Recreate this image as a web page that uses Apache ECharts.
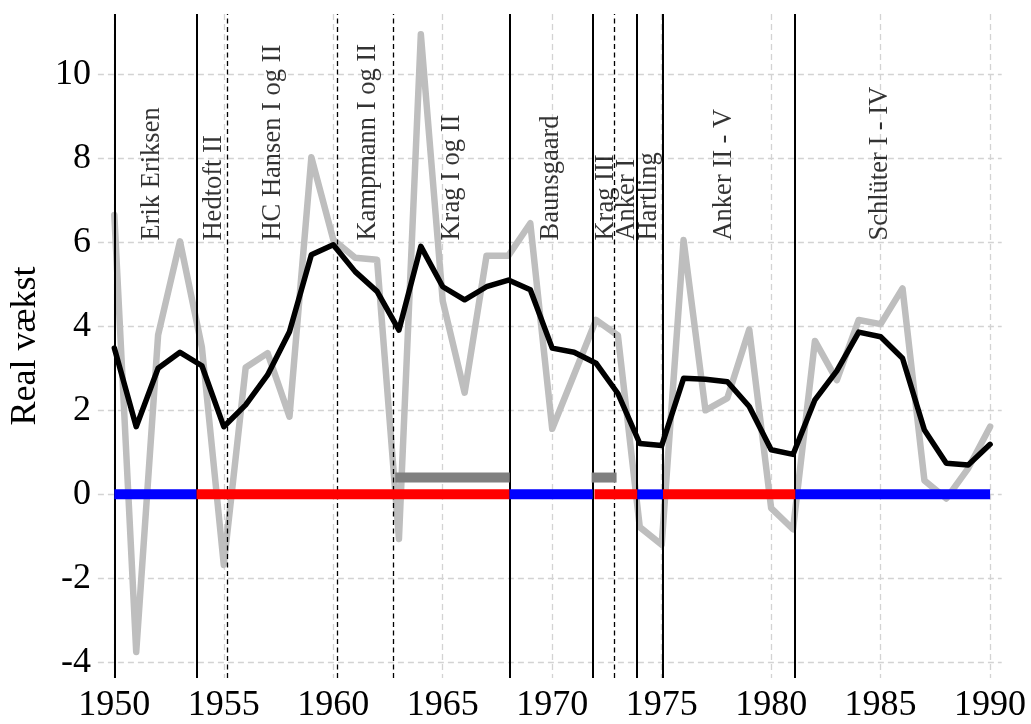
<!DOCTYPE html>
<html><head><meta charset="utf-8">
<script src="https://cdn.jsdelivr.net/npm/echarts@6/dist/echarts.min.js"></script>
<style>html,body{margin:0;padding:0;background:#fff}#c{width:1031px;height:724px}</style>
</head><body><div id="c"></div>
<script>
const years = [1950,1951,1952,1953,1954,1955,1956,1957,1958,1959,1960,1961,1962,1963,1964,1965,1966,1967,1968,1969,1970,1971,1972,1973,1974,1975,1976,1977,1978,1979,1980,1981,1982,1983,1984,1985,1986,1987,1988,1989,1990];
const growth = [6.65,-3.75,3.79,6.02,3.5,-1.68,3.02,3.36,1.85,8.02,6.06,5.63,5.58,-1.06,10.95,4.6,2.42,5.68,5.68,6.45,1.56,2.85,4.15,3.78,-0.78,-1.2,6.05,2.0,2.29,3.92,-0.33,-0.83,3.65,2.72,4.15,4.05,4.9,0.33,-0.1,0.62,1.61];
const smooth = [3.48,1.61,3.0,3.38,3.06,1.61,2.13,2.84,3.87,5.7,5.94,5.3,4.83,3.91,5.9,4.94,4.63,4.94,5.1,4.87,3.48,3.38,3.12,2.4,1.21,1.16,2.76,2.74,2.68,2.09,1.06,0.95,2.25,2.94,3.86,3.75,3.24,1.53,0.74,0.7,1.19];
const xTicks = [1950,1955,1960,1965,1970,1975,1980,1985,1990];
const yTicks = [-4,-2,0,2,4,6,8,10];
const govNames = ['Erik Eriksen','Hedtoft II','HC Hansen I og II','Kampmann I og II','Krag I og II','Baunsgaard','Krag III','Anker I','Hartling','Anker II - V','Schlüter I - IV'];
const govLabelX = [1951.73,1954.55,1957.25,1961.57,1965.44,1969.93,1972.44,1973.42,1974.44,1977.83,1984.97];
const govLabelY = 6.04;
const solidLines = [1950,1953.75,1968.05,1971.83,1973.88,1975.06,1981.1];
const dashedLines = [1955.15,1960.2,1962.74,1972.83];
const blueSegs = [[1950,1953.76],[1968.04,1971.85],[1973.88,1975.06],[1981.1,1990]];
const redSegs = [[1953.76,1968.04],[1971.93,1973.88],[1975.06,1981.1]];
const graySegs = [[1962.83,1968.06],[1971.8,1972.94]];
const grayBarY = 0.4;

const FONT = "'Liberation Serif','Times New Roman',serif";
const chart = echarts.init(document.getElementById('c'), null, {renderer:'canvas'});

function segSeries(segs, y, color, z){
  return segs.map(s => ({
    type:'line', data:[[s[0],y],[s[1],y]], symbol:'none', silent:true, z:z,
    lineStyle:{color:color, width:10, cap:'butt'}, animation:false
  }));
}

const series = [
  {type:'line', data: years.map((y,i)=>[y,growth[i]]), symbol:'none', z:2, animation:false,
   lineStyle:{color:'#BEBEBE', width:6.5, cap:'round', join:'round'}},
  {type:'line', data:[], z:3, animation:false, silent:true,
   markLine:{symbol:'none', silent:true, animation:false, label:{show:false},
     data: solidLines.map(x=>({xAxis:x, lineStyle:{color:'#000', width:2, type:'solid'}}))
       .concat(dashedLines.map(x=>({xAxis:x, lineStyle:{color:'#000', width:1.3, type:[5,3.5]}})))
   }},
  {type:'line', data: years.map((y,i)=>[y,smooth[i]]), symbol:'none', z:4, animation:false,
   lineStyle:{color:'#000', width:5.5, cap:'round', join:'round'}},
  ...segSeries(blueSegs, 0, '#0000FF', 5),
  ...segSeries(redSegs, 0, '#FF0000', 5),
  ...segSeries(graySegs, grayBarY, '#808080', 5),
  {type:'scatter', symbolSize:0, z:6, animation:false, silent:true,
   data: govNames.map((n,i)=>({name:n, value:[govLabelX[i], govLabelY]})),
   label:{show:true, position:'inside', formatter:'{b}', rotate:90, align:'left', verticalAlign:'middle',
     color:'#000', fontFamily:FONT, fontSize:26.5}}
];

chart.setOption({
  animation:false,
  grid:{left:96.5, right:29.3, top:14, bottom:43.3},
  xAxis:{type:'value', min:1949.25, max:1990.53,
    axisLine:{show:false},
    axisTick:{show:false, customValues:xTicks},
    axisLabel:{customValues:xTicks, formatter:v=>String(v), color:'#000', fontFamily:FONT, fontSize:36, margin:10},
    splitLine:{show:true, lineStyle:{color:'#D3D3D3', width:1.3, type:[6,4]}}},
  yAxis:{type:'value', min:-4.37, max:11.43,
    name:'Real vækst', nameLocation:'middle', nameGap:52,
    nameTextStyle:{color:'#000', fontFamily:FONT, fontSize:36},
    axisLine:{show:false},
    axisTick:{show:false, customValues:yTicks},
    axisLabel:{customValues:yTicks, formatter:v=>String(v), color:'#000', fontFamily:FONT, fontSize:36, margin:7},
    splitLine:{show:true, lineStyle:{color:'#D3D3D3', width:1.3, type:[6,4]}}},
  series: series
});
</script></body></html>
